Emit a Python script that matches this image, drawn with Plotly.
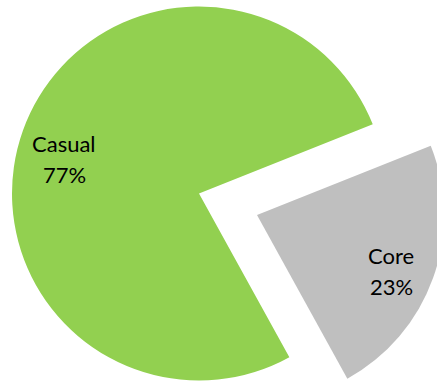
import plotly.graph_objects as go

# Data
labels = ["Core", "Casual"]
values = [23, 77]
colors = ["#BFBFBF", "#92D050"]

W, H = 450, 410
R = 187
green_c = (199, 193.5)
core_c = (257, 215)

def dom(c):
    cx, cy = c
    return dict(x=[(cx - R) / W, (cx + R) / W],
                y=[1 - (cy + R) / H, 1 - (cy - R) / H])

fig = go.Figure()
# Casual slice (Core hidden in this trace)
fig.add_trace(go.Pie(
    labels=labels, values=values, sort=False, direction="clockwise", rotation=68.3,
    marker=dict(colors=["rgba(0,0,0,0)", colors[1]], line=dict(width=0)),
    textinfo="none", domain=dom(green_c), showlegend=False, hoverinfo="skip",
))
# Core slice, exploded
fig.add_trace(go.Pie(
    labels=labels, values=values, sort=False, direction="clockwise", rotation=68.3,
    marker=dict(colors=[colors[0], "rgba(0,0,0,0)"], line=dict(width=0)),
    textinfo="none", domain=dom(core_c), showlegend=False, hoverinfo="skip",
))

# data labels (label line and percent line)
total = sum(values)
label_pos = {"Casual": ((64, 143.5), (64, 175)), "Core": ((391, 255.5), (391, 286))}
for lab, val in zip(labels, values):
    (x1, y1), (x2, y2) = label_pos[lab]
    for txt, (px, py) in ((lab, (x1, y1)), (f"{round(100 * val / total)}%", (x2, y2))):
        fig.add_annotation(text=txt, x=px / W, y=1 - py / H, xref="paper", yref="paper",
                           xanchor="center", yanchor="middle", showarrow=False,
                           font=dict(family="Lato", size=22, color="black"))

fig.update_layout(width=W, height=H, margin=dict(l=0, r=0, t=0, b=0),
                  paper_bgcolor="white", plot_bgcolor="white")
fig.write_html("out.html", post_script="document.body.style.overflow='hidden';document.body.style.margin='0';")
